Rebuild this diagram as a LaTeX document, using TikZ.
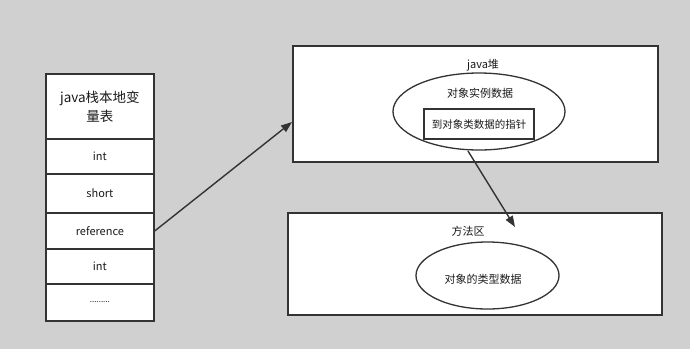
\documentclass[tikz,border=0pt]{standalone}
\usepackage{fontspec}
\setmainfont{Noto Sans CJK SC}
\usetikzlibrary{arrows.meta,shapes.geometric}
\definecolor{bg}{HTML}{D0D0D0}
\definecolor{ln}{HTML}{333333}
\definecolor{tx}{HTML}{1A1A1A}
\tikzset{
  box/.style={draw=ln, fill=white, line width=1.8pt, inner sep=0pt},
  cell/.style={draw=ln, fill=white, line width=1.8pt, minimum width=108pt, inner sep=0pt, font=\fontsize{11}{13}\selectfont, text=tx},
  oval/.style={draw=ln, fill=white, ellipse, line width=1.3pt, inner sep=0pt},
  lbl/.style={font=\fontsize{11}{13}\selectfont, text=tx, inner sep=0pt},
  conn/.style={draw=ln, line width=1.4pt, -{Triangle[length=11pt,width=8pt]}}
}
\begin{document}
\begin{tikzpicture}[x=1pt,y=-1pt]
\fill[bg] (0,0) rectangle (690,349);
\useasboundingbox (0,0) rectangle (690,349);
% stack
\node[cell, minimum height=65pt, anchor=north west, align=center, font=\fontsize{13.5}{19}\selectfont] (title) at (45,73) {java栈本地变\\量表};
\node[cell, minimum height=35pt, anchor=north west] (r1) at (45,138) {\raisebox{-2pt}{int}};
\node[cell, minimum height=39pt, anchor=north west] (r2) at (45,173) {short};
\node[cell, minimum height=36pt, anchor=north west] (r3) at (45,212) {\raisebox{-1pt}{reference}};
\node[cell, minimum height=35pt, anchor=north west] (r4) at (45,248) {\raisebox{-1pt}{int}};
\node[cell, minimum height=37pt, anchor=north west, font=\fontsize{8}{10}\selectfont] (r5) at (45,283) {\raisebox{-1pt}{.........}};
% heap
\node[box, minimum width=365pt, minimum height=116pt, anchor=north west] (heap) at (292,45) {};
\node[lbl] (heaplbl) at (483,65) {java堆};
\node[oval, minimum width=172pt, minimum height=77pt] (inst) at (479,111.5) {};
\node[lbl] (instlbl) at (480,93) {对象实例数据};
\node[box, line width=1.6pt, minimum width=110pt, minimum height=30pt, font=\fontsize{10.5}{12}\selectfont, text=tx] (ptr) at (479,124) {\raisebox{-3pt}{到对象类数据的指针}};
% method area
\node[box, minimum width=374pt, minimum height=102pt, anchor=north west] (meth) at (287,212) {};
\node[lbl] (methlbl) at (468,231) {方法区};
\node[oval, minimum width=143pt, minimum height=67pt] (type) at (487.5,275.5) {};
\node[lbl] (typelbl) at (483,279) {对象的类型数据};
% connectors
\coordinate (a1) at (292,122);
\coordinate (a2s) at (468,151);
\coordinate (a2) at (515,227);
\draw[conn] (r3.east) -- (a1);
\draw[conn] (a2s) -- (a2);
\end{tikzpicture}
\end{document}
